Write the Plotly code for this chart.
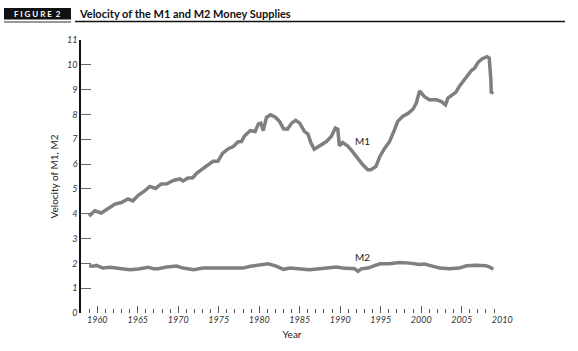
import plotly.graph_objects as go

# ---- data ----
m1_years = [1959.0, 1959.7, 1960.5, 1961.6, 1962.2, 1963.0, 1963.8, 1964.4, 1965.1, 1965.9,
            1966.5, 1967.2, 1967.9, 1968.6, 1969.4, 1970.2, 1970.6, 1971.2, 1971.8, 1972.3,
            1973.1, 1973.7, 1974.3, 1974.9, 1975.5, 1976.2, 1976.8, 1977.4, 1977.8, 1978.2,
            1978.9, 1979.5, 1979.9, 1980.2, 1980.5, 1980.9, 1981.4, 1982.0, 1982.5, 1983.0,
            1983.5, 1984.0, 1984.5, 1985.0, 1985.6, 1986.0, 1986.4, 1986.8, 1987.5, 1988.3,
            1988.9, 1989.4, 1989.7, 1989.9, 1990.3, 1990.9, 1991.5, 1992.1, 1992.8, 1993.4,
            1993.8, 1994.4, 1994.9, 1995.5, 1996.1, 1996.7, 1997.1, 1997.7, 1998.4, 1999.0,
            1999.4, 1999.8, 2000.4, 2001.0, 2001.9, 2002.5, 2003.0, 2003.3, 2003.9, 2004.3,
            2004.7, 2005.2, 2005.8, 2006.2, 2006.6, 2007.0, 2007.5, 2008.1, 2008.4, 2008.5,
            2008.6, 2008.65, 2008.9]
m1_values = [3.90, 4.12, 4.03, 4.27, 4.39, 4.45, 4.60, 4.52, 4.75, 4.93,
             5.10, 5.02, 5.20, 5.21, 5.34, 5.40, 5.32, 5.44, 5.45, 5.64,
             5.84, 5.97, 6.11, 6.11, 6.44, 6.62, 6.71, 6.90, 6.91, 7.14,
             7.35, 7.31, 7.62, 7.65, 7.35, 7.88, 7.99, 7.89, 7.72, 7.42,
             7.41, 7.65, 7.76, 7.65, 7.31, 7.22, 6.85, 6.60, 6.74, 6.91,
             7.11, 7.45, 7.41, 6.74, 6.87, 6.74, 6.51, 6.24, 5.97, 5.77,
             5.77, 5.90, 6.31, 6.64, 6.91, 7.38, 7.72, 7.92, 8.05, 8.22,
             8.46, 8.95, 8.72, 8.59, 8.59, 8.52, 8.39, 8.66, 8.79, 8.90,
             9.13, 9.33, 9.60, 9.77, 9.87, 10.09, 10.24, 10.33, 10.27, 9.93,
             9.40, 8.86, 8.92]

m2_years = [1959.0, 1959.5, 1959.9, 1960.7, 1961.6, 1962.8, 1964.0, 1965.1, 1966.3, 1967.0,
            1967.5, 1968.6, 1969.8, 1970.6, 1971.9, 1973.1, 1974.3, 1975.6, 1976.8, 1978.0,
            1978.9, 1980.1, 1981.1, 1982.1, 1983.0, 1983.8, 1985.0, 1986.2, 1987.5, 1988.7,
            1989.5, 1990.3, 1991.2, 1991.8, 1992.2, 1992.6, 1993.4, 1994.3, 1994.9, 1996.1,
            1997.3, 1998.6, 1999.8, 2000.4, 2001.0, 2002.3, 2003.5, 2004.7, 2005.6, 2006.8,
            2008.0, 2008.4, 2008.9]
m2_values = [1.90, 1.88, 1.92, 1.81, 1.84, 1.78, 1.74, 1.77, 1.84, 1.78,
             1.78, 1.85, 1.89, 1.81, 1.74, 1.81, 1.81, 1.78, 1.78, 1.81,
             1.88, 1.92, 1.98, 1.89, 1.76, 1.81, 1.78, 1.74, 1.78, 1.84,
             1.85, 1.81, 1.81, 1.78, 1.68, 1.78, 1.81, 1.92, 1.98, 1.98,
             2.03, 2.01, 1.95, 1.97, 1.92, 1.81, 1.78, 1.81, 1.90, 1.92,
             1.90, 1.86, 1.76]

y_ticks = list(range(0, 12))
x_ticks = list(range(1960, 2011, 5))

title_text = "Velocity of the M1 and M2 Money Supplies"
fig_label = "FIGURE 2"
y_title = "Velocity of M1, M2"
x_title = "Year"

# ---- geometry ----
W, H = 578, 351
L, T = 81, 40
PW, PH = 422, 273
R = W - L - PW
B = H - T - PH

def px(x):  # pixel x -> paper
    return (x - L) / PW

def py(y):  # pixel y -> paper
    return (T + PH - y) / PH

LINE = "#7f7f7f"
FONT = "Lato"

fig = go.Figure()
fig.add_trace(go.Scatter(x=m1_years, y=m1_values, mode="lines",
                         line=dict(color=LINE, width=3.5), hoverinfo="skip"))
fig.add_trace(go.Scatter(x=m2_years, y=m2_values, mode="lines",
                         line=dict(color=LINE, width=3.5), hoverinfo="skip"))

fig.add_annotation(x=1992.7, y=6.94, text="M1", showarrow=False,
                   xanchor="center", yanchor="middle",
                   font=dict(family=FONT, size=10, color="#222"))
fig.add_annotation(x=1992.7, y=2.25, text="M2", showarrow=False,
                   xanchor="center", yanchor="middle",
                   font=dict(family=FONT, size=10, color="#222"))

# header
fig.add_shape(type="rect", xref="paper", yref="paper",
              x0=px(4), x1=px(71), y0=py(19.5), y1=py(8), fillcolor="#111", line_width=0)
fig.add_shape(type="line", xref="paper", yref="paper",
              x0=px(4), x1=px(71), y0=py(22), y1=py(22), line=dict(color="#777", width=1.5))
fig.add_shape(type="line", xref="paper", yref="paper",
              x0=px(75), x1=px(565), y0=py(21.5), y1=py(21.5), line=dict(color="#111", width=1.5))
fig.add_annotation(xref="paper", yref="paper", x=px(37.5), y=py(14), text="<b>F I G U R E  2</b>",
                   showarrow=False, xanchor="center", yanchor="middle",
                   font=dict(family=FONT, size=8, color="white"))
fig.add_annotation(xref="paper", yref="paper", x=px(77), y=py(14), xanchor="left", yanchor="middle",
                   text="<b>" + title_text + "</b>", showarrow=False,
                   font=dict(family=FONT, size=11, color="#111"))

fig.update_layout(
    width=W, height=H,
    margin=dict(l=L, r=R, t=T, b=B, pad=0),
    paper_bgcolor="white", plot_bgcolor="white",
    showlegend=False,
    xaxis=dict(range=[1958, 2010.1], tickvals=x_ticks, ticks="inside", ticklen=7,
               tickwidth=1, tickcolor="#555", showline=False, showgrid=False, zeroline=False,
               minor=dict(dtick=1, tick0=1958, ticks="inside", ticklen=4, tickcolor="#555",
                          tickwidth=1, showgrid=False),
               tickfont=dict(family=FONT, size=9, color="#333", style="italic"),
               title=dict(text=x_title, font=dict(family=FONT, size=10, color="#222"), standoff=6)),
    yaxis=dict(range=[0, 11], tickvals=y_ticks, ticks="inside", ticklen=10, tickwidth=1.2,
               tickcolor="#666", showline=True, linecolor="#111", linewidth=1.5,
               showgrid=False, zeroline=False,
               tickfont=dict(family=FONT, size=9, color="#333", style="italic"),
               title=dict(text=y_title, font=dict(family=FONT, size=10, color="#222"), standoff=6)),
)

fig.write_html("out.html")
